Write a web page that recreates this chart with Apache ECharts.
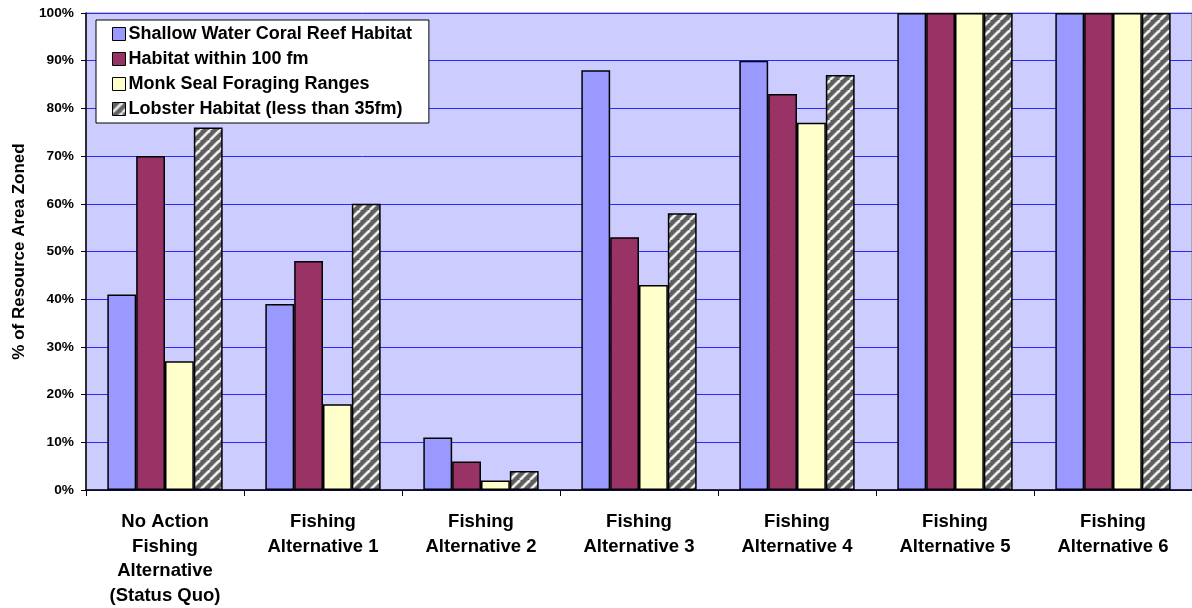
<!DOCTYPE html>
<html><head><meta charset="utf-8">
<script src="https://cdn.jsdelivr.net/npm/echarts@6/dist/echarts.min.js"></script>
<style>html,body{margin:0;padding:0;background:#fff}#c{width:1192px;height:608px}</style>
</head><body><div id="c"></div>
<script>
const categories = ["No Action\nFishing\nAlternative\n(Status Quo)", "Fishing\nAlternative 1", "Fishing\nAlternative 2", "Fishing\nAlternative 3", "Fishing\nAlternative 4", "Fishing\nAlternative 5", "Fishing\nAlternative 6"];
const shallowReef = [41, 39, 11, 88, 90, 100, 100];
const habitat100fm = [70, 48, 6, 53, 83, 100, 100];
const monkSeal = [27, 18, 2, 43, 77, 100, 100];
const lobster = [76, 60, 4, 58, 87, 100, 100];
const seriesNames = ["Shallow Water Coral Reef Habitat", "Habitat within 100 fm", "Monk Seal Foraging Ranges", "Lobster Habitat (less than 35fm)"];
const yTicks = [0, 10, 20, 30, 40, 50, 60, 70, 80, 90, 100];

function makePattern() {
  const s = 10;
  const cv = document.createElement('canvas');
  cv.width = s; cv.height = s;
  const g = cv.getContext('2d');
  g.fillStyle = '#5f5f5f';
  g.fillRect(0, 0, s, s);
  g.strokeStyle = 'rgba(200,200,200,0.8)';
  g.lineWidth = 3.2;
  for (const off of [-s, 0, s]) { g.beginPath(); g.moveTo(off, s); g.lineTo(off + s, 0); g.stroke(); }
  g.strokeStyle = 'rgba(250,250,250,1)';
  g.lineWidth = 1.6;
  for (const off of [-s, 0, s]) { g.beginPath(); g.moveTo(off, s); g.lineTo(off + s, 0); g.stroke(); }
  return cv;
}
const pat = makePattern();

const chart = echarts.init(document.getElementById('c'));
const font = 'Liberation Sans, Arial, sans-serif';
function bar(name, data, color) {
  return {
    name, type: 'bar', data,
    barGap: '0%', barCategoryGap: '27%',
    itemStyle: { color, borderColor: '#000', borderWidth: 1.5 }
  };
}
chart.setOption({
  animation: false,
  textStyle: { fontFamily: font },
  grid: { left: 86, width: 1113, top: 13, bottom: 117, show: true, backgroundColor: '#CCCCFF', borderColor: '#808080', borderWidth: 1 },
  legend: {
    orient: 'vertical', left: 96, top: 20,
    backgroundColor: '#fff', borderColor: '#000', borderWidth: 1,
    padding: [5, 17, 5, 16], itemGap: 7,
    itemWidth: 13, itemHeight: 13,
    textStyle: { fontFamily: font, fontWeight: 'bold', fontSize: 18, color: '#000', padding: [0, 0, 0, -2] },
    data: seriesNames.map(n => ({ name: n, icon: 'rect', itemStyle: { borderColor: '#000', borderWidth: 1 } }))
  },
  xAxis: {
    type: 'category', data: categories,
    axisLine: { lineStyle: { color: '#000', width: 1.5 } },
    axisTick: { show: true, alignWithLabel: false, length: 6, lineStyle: { color: '#000' } },
    axisLabel: { interval: 0, margin: 20, fontFamily: font, fontWeight: 'bold', fontSize: 18.5, color: '#000', lineHeight: 24.5 }
  },
  yAxis: {
    type: 'value', min: 0, max: 100, interval: 10,
    name: '% of Resource Area Zoned', nameLocation: 'middle', nameGap: 55, nameRotate: 90,
    nameTextStyle: { fontFamily: font, fontWeight: 'bold', fontSize: 17, color: '#000' },
    axisLine: { show: true, lineStyle: { color: '#000', width: 1.5 } },
    axisTick: { show: true, length: 5, lineStyle: { color: '#000' } },
    axisLabel: { formatter: '{value}%', margin: 12, fontFamily: font, fontWeight: 'bold', fontSize: 13.7, color: '#000' },
    splitLine: { show: true, lineStyle: { color: '#2a2aff', width: 1 } }
  },
  series: [
    bar(seriesNames[0], shallowReef, '#9999FF'),
    bar(seriesNames[1], habitat100fm, '#993366'),
    bar(seriesNames[2], monkSeal, '#FFFFCC'),
    bar(seriesNames[3], lobster, { image: pat, repeat: 'repeat' })
  ]
});
</script></body></html>
